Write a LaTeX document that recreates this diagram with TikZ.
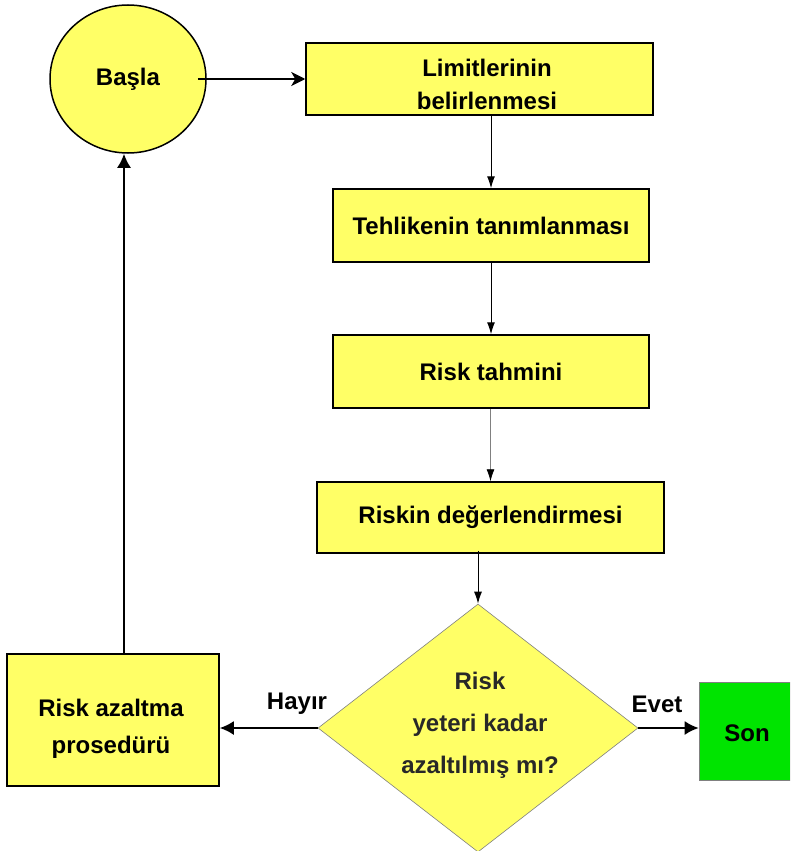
\documentclass[tikz,border=0pt]{standalone}
\usepackage{fontspec}
\setmainfont{Liberation Sans}
\usetikzlibrary{shapes.geometric,arrows.meta}
\definecolor{boxyellow}{RGB}{255,255,102}
\definecolor{songreen}{RGB}{0,228,0}
\definecolor{dtext}{RGB}{40,40,40}
\tikzset{
  every node/.style={font=\fontsize{24}{33}\selectfont\bfseries, inner sep=0pt, align=center},
  ybox/.style={draw=black, line width=1.5pt, fill=boxyellow, rectangle},
  thin arrow/.style={line width=1pt, -{Latex[length=12pt,width=8pt]}},
  thick arrow/.style={line width=2pt, -{Latex[length=14pt,width=14pt]}},
}
\begin{document}
\begin{tikzpicture}[x=1pt,y=-1pt]
\useasboundingbox (0,0) rectangle (790,851);
\clip (0,0) rectangle (790,851);
\node[ellipse, draw=black, line width=1.5pt, fill=boxyellow, minimum width=156pt, minimum height=148pt] (start) at (128,79) {Başla};
\node[ybox, minimum width=347pt, minimum height=72pt] (lim) at (479.5,79) {};
\node (limt) at (487,84) {Limitlerinin\\belirlenmesi};
\node[ybox, minimum width=316pt, minimum height=73pt] (teh) at (491,225.5) {Tehlikenin tanımlanması};
\node[ybox, minimum width=316pt, minimum height=73pt] (tah) at (491,371.5) {Risk tahmini};
\node[ybox, minimum width=347pt, minimum height=71pt] (deg) at (490.5,517.5) {Riskin değerlendirmesi};
\node[diamond, draw=gray, line width=0.6pt, fill=boxyellow, aspect=1.29, minimum width=320pt, minimum height=248pt] (dec) at (478,728) {};
\node[text=dtext, font=\fontsize{24}{42}\selectfont\bfseries] (dect) at (480,725) {Risk\\yeteri kadar\\azaltılmış mı?};
\node[ybox, minimum width=212pt, minimum height=132pt] (red) at (113,720) {};
\node[font=\fontsize{24}{37}\selectfont\bfseries] (redt) at (111,729) {Risk azaltma\\prosedürü};
\node[draw=gray, line width=0.6pt, fill=songreen, minimum width=91pt, minimum height=98pt] (son) at (744.5,731) {};
\node (sont) at (747,733) {Son};
\node (hayir) at (297,704) {Hayır};
\node (evet) at (657,704) {Evet};

\draw[line width=2pt, -{Stealth[length=14pt,width=14pt,inset=4pt]}] ([xshift=-9pt]start.east) -- (lim.west);
\draw[thin arrow] (teh.north |- lim.south) -- (teh.north);
\draw[thin arrow] (tah.north |- teh.south) -- (tah.north);
\draw[line width=0.8pt, draw=gray, -{Latex[length=12pt,width=8pt,color=black]}] (deg.north |- tah.south) -- (deg.north);
\draw[thin arrow] ([yshift=3pt]deg.south -| dec.north) -- (dec.north);
\draw[thick arrow] (dec.west) -- (dec.west -| red.east);
\draw[thick arrow] (dec.east) -- (dec.east -| son.west);
\draw[thick arrow] ([xshift=-4pt]red.north -| start.south) -- ([xshift=-4pt]start.south);
\end{tikzpicture}
\end{document}
